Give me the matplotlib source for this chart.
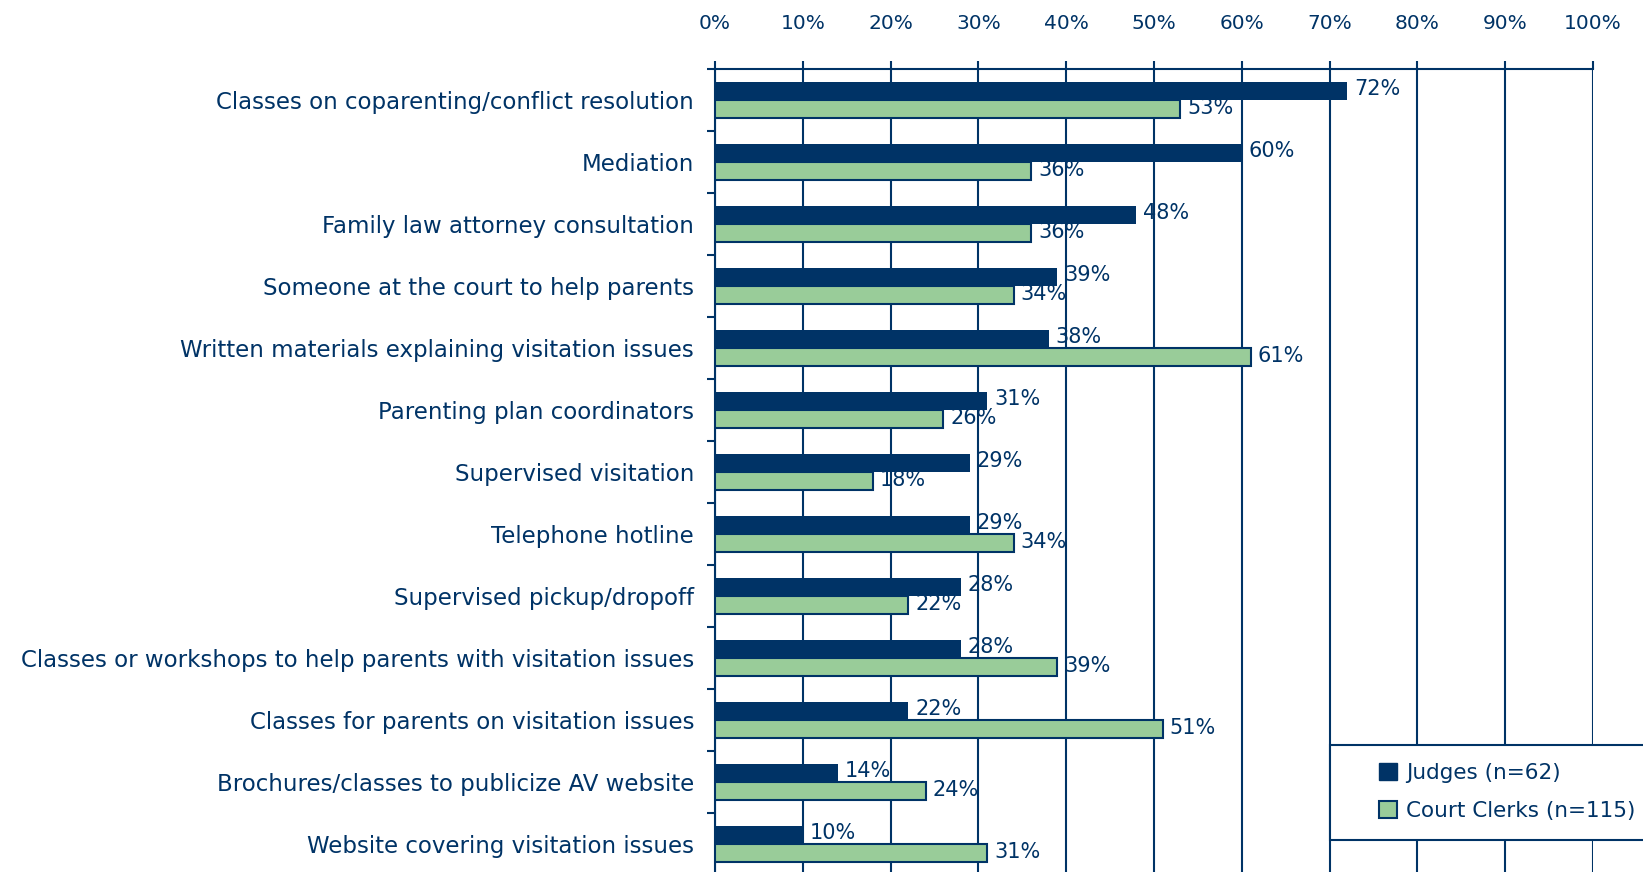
import matplotlib.pyplot as plt
from matplotlib.patches import Patch, Rectangle
import numpy as np

# survey items, top to bottom
categories = [
    'Classes on coparenting/conflict resolution',
    'Mediation',
    'Family law attorney consultation',
    'Someone at the court to help parents',
    'Written materials explaining visitation issues',
    'Parenting plan coordinators',
    'Supervised visitation',
    'Telephone hotline',
    'Supervised pickup/dropoff',
    'Classes or workshops to help parents with visitation issues',
    'Classes for parents on visitation issues',
    'Brochures/classes to publicize AV website',
    'Website covering visitation issues',
]
judges = [72, 60, 48, 39, 38, 31, 29, 29, 28, 28, 22, 14, 10]
clerks = [53, 36, 36, 34, 61, 26, 18, 34, 22, 39, 51, 24, 31]
xticks = list(range(0, 101, 10))
series_names = ['Judges (n=62)', 'Court Clerks (n=115)']

navy = '#003366'
green = '#99cc99'

fig = plt.figure(figsize=(16.43, 8.72), dpi=100)
ax = fig.add_axes([715 / 1643, 1 - 875 / 872, (1593 - 715) / 1643, (875 - 69) / 872])

y = np.arange(len(categories))
h = 0.29
ax.barh(y + 0.5 - h / 2 - 0.005, judges, height=h, color=navy, zorder=3)
ax.barh(y + 0.5 + h / 2 - 0.005, clerks, height=h, color=green, edgecolor=navy,
        linewidth=1.5, zorder=3)

# value labels
for i in range(len(categories)):
    ax.annotate(f'{judges[i]}%', (judges[i], y[i] + 0.5 - h / 2 - 0.04),
                textcoords='offset points', xytext=(5, 0), va='center',
                fontsize=15, color=navy, zorder=4)
    ax.annotate(f'{clerks[i]}%', (clerks[i], y[i] + 0.5 + h / 2 - 0.01),
                textcoords='offset points', xytext=(5, 0), va='center',
                fontsize=15, color=navy, zorder=4)

ax.set_xlim(0, 100)
ax.set_ylim(len(categories), 0)

ax.xaxis.tick_top()
ax.set_xticks(xticks)
ax.set_xticklabels([f'{t}%' for t in xticks], fontsize=14.5, color=navy)
ax.tick_params(axis='x', direction='out', length=6, width=1.5, color=navy, pad=20)
ax.grid(axis='x', color=navy, linewidth=1.5, zorder=0)

ax.set_yticks(np.arange(len(categories) + 1))
ax.set_yticklabels([])
ax.tick_params(axis='y', which='major', direction='out', length=6, width=1.5, color=navy)
ax.set_yticks(y + 0.5, minor=True)
ax.set_yticklabels(categories, minor=True, fontsize=16.5, color=navy)
ax.tick_params(axis='y', which='minor', length=0, pad=15)

for side in ['right', 'bottom']:
    ax.spines[side].set_visible(False)
for side in ['left', 'top']:
    ax.spines[side].set_color(navy)
    ax.spines[side].set_linewidth(1.5)

# legend box
fig.patches.append(Rectangle((1330 / 1643, 1 - 840 / 872), 400 / 1643, 95 / 872,
                             transform=fig.transFigure, facecolor='white',
                             edgecolor=navy, linewidth=1.5, zorder=5))
handles = [Patch(facecolor=navy, edgecolor=navy),
           Patch(facecolor=green, edgecolor=navy, linewidth=1.5)]
leg = fig.legend(handles, series_names, loc='center left',
                 bbox_to_anchor=(1360 / 1643, 1 - 792 / 872), frameon=False,
                 fontsize=15.5, handlelength=0.8, handleheight=0.8,
                 handletextpad=0.45, labelspacing=0.85, labelcolor=navy)
leg.set_zorder(6)

fig.savefig('out.png', dpi=100)
